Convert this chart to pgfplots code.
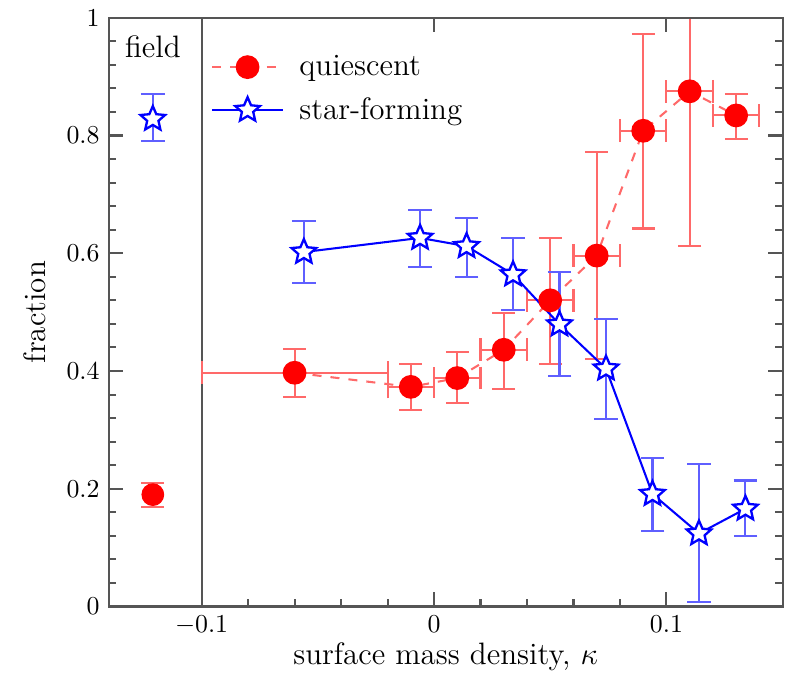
\documentclass[border=0pt]{standalone}
\usepackage{pgfplots}
\pgfplotsset{compat=1.18}
\usepackage{pgfplotstable}

\definecolor{qred}{RGB}{255,0,0}
\definecolor{ebred}{RGB}{255,105,105}
\definecolor{sfblue}{RGB}{0,0,255}
\definecolor{ebblue}{RGB}{95,95,255}
\definecolor{frame}{RGB}{85,85,85}

% outlined five-pointed star
\pgfdeclareplotmark{sfstar}{%
  \pgfpathmoveto{\pgfpointpolar{90}{\pgfplotmarksize}}%
  \pgfpathlineto{\pgfpointpolar{126}{0.46\pgfplotmarksize}}%
  \pgfpathlineto{\pgfpointpolar{162}{\pgfplotmarksize}}%
  \pgfpathlineto{\pgfpointpolar{198}{0.46\pgfplotmarksize}}%
  \pgfpathlineto{\pgfpointpolar{234}{\pgfplotmarksize}}%
  \pgfpathlineto{\pgfpointpolar{270}{0.46\pgfplotmarksize}}%
  \pgfpathlineto{\pgfpointpolar{306}{\pgfplotmarksize}}%
  \pgfpathlineto{\pgfpointpolar{342}{0.46\pgfplotmarksize}}%
  \pgfpathlineto{\pgfpointpolar{18}{\pgfplotmarksize}}%
  \pgfpathlineto{\pgfpointpolar{54}{0.46\pgfplotmarksize}}%
  \pgfpathclose
  \pgfusepathqfillstroke}

% x y x-err(minus/plus) y-err(minus/plus)
\pgfplotstableread{
x      y      exm   exp   eym   eyp
-0.060 0.397 0.040 0.040 0.041 0.040
-0.010 0.373 0.010 0.010 0.039 0.039
0.010  0.388 0.010 0.010 0.043 0.045
0.030  0.436 0.010 0.010 0.066 0.063
0.050  0.520 0.010 0.010 0.108 0.106
0.070  0.596 0.010 0.010 0.176 0.176
0.090  0.808 0.010 0.010 0.166 0.164
0.110  0.875 0.010 0.010 0.263 0.265
0.130  0.834 0.010 0.010 0.040 0.037
}\quiescent

\pgfplotstableread{
x      y      eym   eyp
-0.056 0.602 0.052 0.052
-0.006 0.626 0.049 0.047
0.014  0.612 0.052 0.048
0.034  0.564 0.060 0.062
0.054  0.479 0.087 0.089
0.074  0.404 0.086 0.085
0.094  0.191 0.062 0.062
0.114  0.124 0.117 0.118
0.134  0.166 0.047 0.048
}\starforming

\pgfplotsset{
  frameaxis/.style={
    width=261pt, height=228pt, scale only axis,
    xmin=-0.14, xmax=0.15, ymin=0, ymax=1,
    tick align=inside,
    major tick length=5.5pt, minor tick length=3pt,
    axis line style={frame, line width=0.8pt},
    every tick/.style={frame, line width=0.8pt},
  },
}

\begin{document}
\begin{tikzpicture}
\begin{axis}[
    frameaxis,
    xtick={-0.1,0,0.1}, ytick={0,0.2,0.4,0.6,0.8,1},
    minor x tick num=4, minor y tick num=4,
    xtick pos=bottom,
    label style={font=\large},
    xlabel={surface mass density, $\kappa$},
    ylabel={fraction},
    xlabel style={yshift=3.5pt},
    ylabel style={yshift=1pt},
    legend style={at={(0.14,0.955)}, anchor=north west, draw=none, fill=none,
        row sep=3pt, font=\large, nodes={anchor=west, inner xsep=6pt}},
    legend cell align=left,
    legend image code/.code={%
        \draw[mark repeat=2, mark phase=2] plot coordinates {(0cm,0cm) (0.48cm,0cm) (0.96cm,0cm)};},
]
% separator between field and binned points
\addplot[frame, line width=0.8pt, forget plot] coordinates {(-0.1,0) (-0.1,1)};

\addplot[ebred, line width=0.8pt, dash pattern=on 3.5pt off 3.5pt,
    mark=*, mark size=4.2pt, mark options={solid, fill=qred, draw=qred},
    error bars/.cd, x dir=both, x explicit, y dir=both, y explicit,
    error bar style={ebred, line width=0.8pt, solid},
    error mark options={rotate=90, ebred, mark size=4.4pt, line width=0.8pt, solid}]
    table[x=x, y=y, x error minus=exm, x error plus=exp, y error minus=eym, y error plus=eyp] {\quiescent};
\addlegendentry{quiescent}

\addplot[sfblue, line width=0.8pt,
    mark=sfstar, mark size=5pt, mark options={fill=white, draw=sfblue, line width=0.9pt},
    error bars/.cd, y dir=both, y explicit,
    error bar style={ebblue, line width=0.8pt},
    error mark options={rotate=90, ebblue, mark size=4.6pt, line width=0.8pt}]
    table[x=x, y=y, y error minus=eym, y error plus=eyp] {\starforming};
\addlegendentry{star-forming}

% field values
\addplot[only marks, mark=*, mark size=4.2pt, mark options={fill=qred, draw=qred}, forget plot,
    error bars/.cd, y dir=both, y explicit,
    error bar style={ebred, line width=0.8pt},
    error mark options={rotate=90, ebred, mark size=4.4pt, line width=0.8pt}]
    coordinates {(-0.121,0.190) -= (0,0.021) += (0,0.020)};
\addplot[only marks, mark=sfstar, mark size=5pt, mark options={fill=white, draw=sfblue, line width=0.9pt}, forget plot,
    error bars/.cd, y dir=both, y explicit,
    error bar style={ebblue, line width=0.8pt},
    error mark options={rotate=90, ebblue, mark size=4.6pt, line width=0.8pt}]
    coordinates {(-0.121,0.828) -= (0,0.038) += (0,0.042)};

\node[font=\large] at (axis cs:-0.121,0.95) {field};
\end{axis}
% top edge carries only the major ticks
\begin{axis}[
    frameaxis,
    axis x line*=top, hide y axis,
    xtick={0,0.1}, xticklabels={},
]
\end{axis}
% white margins as in the reference
\path ([xshift=-6pt]current bounding box.west) ([xshift=4pt]current bounding box.east);
\end{tikzpicture}
\end{document}
